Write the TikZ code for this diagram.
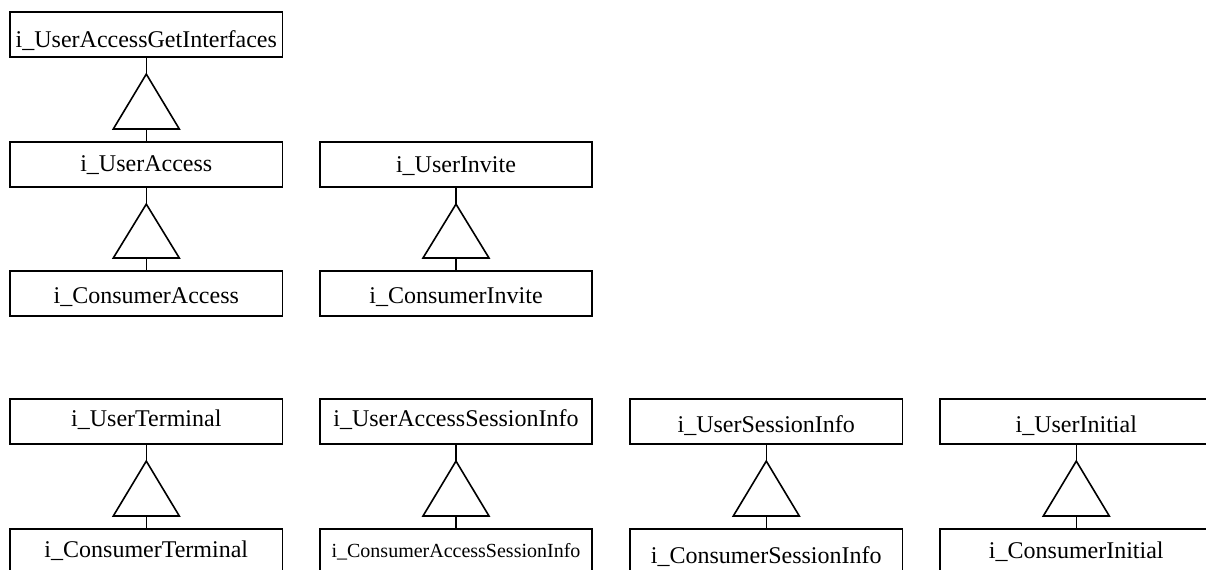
\documentclass[tikz,border=0pt]{standalone}
\usepackage{fontspec}
\setmainfont{Liberation Serif}
\usetikzlibrary{calc}
\tikzset{
  iface/.style={draw, line width=0.8pt, anchor=north west, inner sep=0pt,
    minimum width=136.2pt, text height=22.5pt-#1, text depth=#1,
    font=\fontsize{12}{14}\selectfont},
  conn/.style={line width=0.8pt},
}
% generalisation: parent box #1, child box #2
\newcommand\genlink[2]{%
  \draw[conn] (#1.south) -- ($(#1.south)+(0,-8.25pt)$);
  \draw[conn, line join=miter] ($(#1.south)+(0,-8.25pt)$)
     -- ($(#2.north)+(-16.5pt,6pt)$) -- ($(#2.north)+(16.5pt,6pt)$) -- cycle;
  \draw[conn] ($(#2.north)+(0,6pt)$) -- (#2.north);
}
\begin{document}
\begin{tikzpicture}
\useasboundingbox (0,0) rectangle (603pt,-284.5pt);

% upper group
\node[iface=4.75pt] (uagi) at (4.65pt,-5.5pt) {i\_UserAccessGetInterfaces};
\node[iface=7.5pt]  (ua)   at (4.65pt,-70.5pt) {i\_UserAccess};
\node[iface=6pt]    (ca)   at (4.65pt,-135pt) {i\_ConsumerAccess};
\node[iface=7pt]    (ui)   at (159.5pt,-70.5pt) {i\_UserInvite};
\node[iface=6pt]    (ci)   at (159.5pt,-135pt) {i\_ConsumerInvite};

% lower group
\node[iface=8.5pt]  (ut)   at (4.65pt,-199pt) {i\_UserTerminal};
\node[iface=8pt]    (ct)   at (4.65pt,-264pt) {i\_ConsumerTerminal};
\node[iface=8.5pt]  (uasi) at (159.5pt,-199pt) {i\_UserAccessSessionInfo};
\node[iface=8pt, font=\fontsize{10}{12}\selectfont] (casi) at (159.5pt,-264pt) {i\_ConsumerAccessSessionInfo};
\node[iface=5.5pt]  (usi)  at (314.65pt,-199pt) {i\_UserSessionInfo};
\node[iface=5pt]    (csi)  at (314.65pt,-264pt) {i\_ConsumerSessionInfo};
\node[iface=5.5pt]  (uin)  at (469.65pt,-199pt) {i\_UserInitial};
\node[iface=7.5pt]  (cin)  at (469.65pt,-264pt) {i\_ConsumerInitial};

\genlink{uagi}{ua}
\genlink{ua}{ca}
\genlink{ui}{ci}
\genlink{ut}{ct}
\genlink{uasi}{casi}
\genlink{usi}{csi}
\genlink{uin}{cin}
\end{tikzpicture}
\end{document}
